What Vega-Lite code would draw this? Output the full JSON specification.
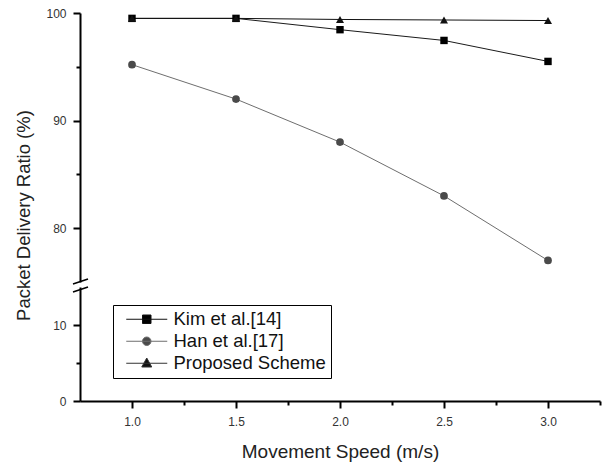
{
  "$schema": "https://vega.github.io/schema/vega-lite/v6.json",
  "padding": {"left": 14, "top": 7, "right": 5, "bottom": 5},
  "background": "white",
  "bounds": "flush",
  "spacing": 5,
  "config": {
    "view": {"stroke": null},
    "font": "Liberation Sans",
    "axis": {
      "domainColor": "#000000", "domainWidth": 2, "tickColor": "#000000", "tickWidth": 2,
      "labelColor": "#333333", "labelFontSize": 12, "labelFont": "Liberation Sans",
      "titleFont": "Liberation Sans", "titleFontWeight": "normal", "titleColor": "#222222", "grid": false
    }
  },
  "data": {"values": [
    {"series": "Kim et al.[14]", "speed": 1.0, "pdr": 99.5},
    {"series": "Kim et al.[14]", "speed": 1.5, "pdr": 99.5},
    {"series": "Kim et al.[14]", "speed": 2.0, "pdr": 98.45},
    {"series": "Kim et al.[14]", "speed": 2.5, "pdr": 97.45},
    {"series": "Kim et al.[14]", "speed": 3.0, "pdr": 95.5},
    {"series": "Han et al.[17]", "speed": 1.0, "pdr": 95.2},
    {"series": "Han et al.[17]", "speed": 1.5, "pdr": 92.0},
    {"series": "Han et al.[17]", "speed": 2.0, "pdr": 88.0},
    {"series": "Han et al.[17]", "speed": 2.5, "pdr": 83.0},
    {"series": "Han et al.[17]", "speed": 3.0, "pdr": 77.0},
    {"series": "Proposed Scheme", "speed": 1.0, "pdr": 99.5},
    {"series": "Proposed Scheme", "speed": 1.5, "pdr": 99.5},
    {"series": "Proposed Scheme", "speed": 2.0, "pdr": 99.4},
    {"series": "Proposed Scheme", "speed": 2.5, "pdr": 99.35},
    {"series": "Proposed Scheme", "speed": 3.0, "pdr": 99.3}
  ]},
  "resolve": {"scale": {"shape": "independent", "fill": "independent", "stroke": "independent", "size": "independent"}},
  "vconcat": [
    {
      "width": 520, "height": 269,
      "layer": [
        {
          "mark": {"type": "line", "strokeWidth": 1},
          "encoding": {
            "x": {"field": "speed", "type": "quantitative", "scale": {"domain": [0.75, 3.25], "nice": false}, "axis": null},
            "y": {"field": "pdr", "type": "quantitative", "scale": {"domain": [75, 100], "nice": false},
              "axis": {"values": [80, 85, 90, 95, 100],
                "tickSize": {"condition": {"test": "datum.value % 10 === 0", "value": 7}, "value": 4},
                "labelExpr": "datum.value % 10 === 0 ? datum.label : ''",
                "labelPadding": 7,
                "title": "Packet Delivery Ratio (%)", "titleFontSize": 18.5, "titleY": 202, "titlePadding": 12}},
            "stroke": {"field": "series", "type": "nominal",
              "scale": {"domain": ["Kim et al.[14]", "Han et al.[17]", "Proposed Scheme"], "range": ["#1a1a1a", "#6e6e6e", "#111111"]},
              "legend": null}
          }
        },
        {
          "mark": {"type": "point", "filled": true, "opacity": 1},
          "encoding": {
            "x": {"field": "speed", "type": "quantitative", "scale": {"domain": [0.75, 3.25], "nice": false}, "axis": null},
            "y": {"field": "pdr", "type": "quantitative", "scale": {"domain": [75, 100], "nice": false}},
            "fill": {"field": "series", "type": "nominal",
              "scale": {"domain": ["Kim et al.[14]", "Han et al.[17]", "Proposed Scheme"], "range": ["#000000", "#4a4a4a", "#111111"]},
              "legend": null},
            "shape": {"field": "series", "type": "nominal",
              "scale": {"domain": ["Kim et al.[14]", "Han et al.[17]", "Proposed Scheme"], "range": ["square", "circle", "triangle-up"]},
              "legend": null},
            "size": {"field": "series", "type": "nominal",
              "scale": {"domain": ["Kim et al.[14]", "Han et al.[17]", "Proposed Scheme"], "range": [55, 64, 100]},
              "legend": null}
          }
        },
        {
          "data": {"values": [{}]},
          "mark": {"type": "rule", "strokeWidth": 1.5, "color": "#000000"},
          "encoding": {
            "x": {"datum": 0.7163, "scale": {"domain": [0.75, 3.25], "nice": false}, "axis": null},
            "x2": {"datum": 0.7885},
            "y": {"datum": 74.81, "scale": {"domain": [75, 100], "nice": false}},
            "y2": {"datum": 75.28}
          }
        }
      ]
    },
    {
      "width": 520, "height": 114,
      "layer": [
        {
          "mark": {"type": "point", "filled": true, "clip": true, "strokeWidth": 1},
          "encoding": {
            "x": {"field": "speed", "type": "quantitative", "scale": {"domain": [0.75, 3.25], "nice": false},
              "axis": {"values": [1, 1.25, 1.5, 1.75, 2, 2.25, 2.5, 2.75, 3, 3.25], "format": ".1f",
                "tickSize": {"condition": {"test": "abs(datum.value * 2 - round(datum.value * 2)) < 0.01", "value": 7}, "value": 4},
                "labelExpr": "abs(datum.value * 2 - round(datum.value * 2)) < 0.01 ? datum.label : ''",
                "labelPadding": 8,
                "title": "Movement Speed (m/s)", "titleFontSize": 19, "titlePadding": 15}},
            "y": {"field": "pdr", "type": "quantitative", "scale": {"domain": [0, 15], "nice": false},
              "axis": {"values": [0, 5, 10],
                "tickSize": {"condition": {"test": "datum.value % 10 === 0", "value": 7}, "value": 4},
                "labelExpr": "datum.value % 10 === 0 ? datum.label : ''",
                "labelPadding": 7, "title": null}},
            "fill": {"field": "series", "type": "nominal",
              "scale": {"domain": ["Kim et al.[14]", "Han et al.[17]", "Proposed Scheme"], "range": ["#000000", "#4a4a4a", "#111111"]},
              "legend": {"title": null, "orient": "none", "legendX": 33, "legendY": 18, "direction": "vertical",
                "strokeColor": "#000000", "fillColor": "#ffffff", "padding": 5, "rowPadding": 3,
                "labelFontSize": 18.5, "labelFont": "Liberation Sans", "labelColor": "#111111", "labelOffset": 37,
                "symbolSize": 100, "symbolStrokeWidth": 1, "symbolOpacity": 1}},
            "stroke": {"field": "series", "type": "nominal",
              "scale": {"domain": ["Kim et al.[14]", "Han et al.[17]", "Proposed Scheme"], "range": ["#111111", "#6e6e6e", "#333333"]},
              "legend": {"title": null, "orient": "none", "legendX": 33, "legendY": 18, "direction": "vertical",
                "strokeColor": "#000000", "fillColor": "#ffffff", "padding": 5, "rowPadding": 3,
                "labelFontSize": 18.5, "labelFont": "Liberation Sans", "labelColor": "#111111", "labelOffset": 37,
                "symbolSize": 100, "symbolStrokeWidth": 1, "symbolOpacity": 1}},
            "shape": {"field": "series", "type": "nominal",
              "scale": {"domain": ["Kim et al.[14]", "Han et al.[17]", "Proposed Scheme"],
                "range": [
                  "M-0.2,0H8M3.05,-0.85H4.75V0.85H3.05Z",
                  "M-0.2,0H8M3.05,0A0.85,0.85 0 1,0 4.75,0A0.85,0.85 0 1,0 3.05,0Z",
                  "M-0.2,0H8M3.9,-1.05L4.9,0.75H2.9Z"
                ]},
              "legend": {"title": null, "orient": "none", "legendX": 33, "legendY": 18, "direction": "vertical",
                "strokeColor": "#000000", "fillColor": "#ffffff", "padding": 5, "rowPadding": 3,
                "labelFontSize": 18.5, "labelFont": "Liberation Sans", "labelColor": "#111111", "labelOffset": 37,
                "symbolSize": 100, "symbolStrokeWidth": 1, "symbolOpacity": 1}}
          }
        },
        {
          "data": {"values": [{}]},
          "mark": {"type": "rule", "strokeWidth": 1.5, "color": "#000000"},
          "encoding": {
            "x": {"datum": 0.7163, "scale": {"domain": [0.75, 3.25], "nice": false}},
            "x2": {"datum": 0.7885},
            "y": {"datum": 14.34, "scale": {"domain": [0, 15], "nice": false}},
            "y2": {"datum": 15.0}
          }
        }
      ]
    }
  ]
}
